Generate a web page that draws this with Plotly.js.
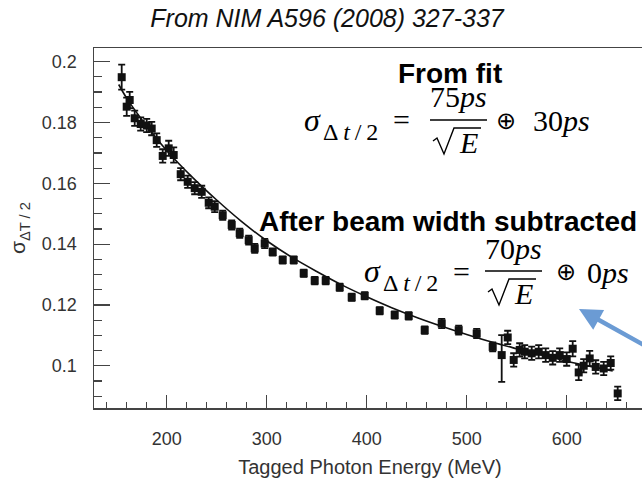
<!DOCTYPE html>
<html>
<head>
<meta charset="utf-8">
<script src="https://cdn.plot.ly/plotly-3.0.1.min.js"></script>
<style>
html,body{margin:0;padding:0;overflow:hidden;background:#fff;}
#chart{width:660px;height:487px;}
</style>
</head>
<body>
<div id="chart"></div>
<script>
// ---- data ----
const energy = [155,160,163,168,174,180,185,190,196,202,207,214,221,228,235,242,248,256,265,273,282,288,298,306,316,327,337,348,359,373,385,398,413,428,442,458,475,492,510,526,535,541,547,553,558,565,572,579,586,593,600,606,612,617,623,629,637,644,651];
const sigma = [0.1949,0.1852,0.1874,0.1814,0.1795,0.1790,0.1780,0.1742,0.1690,0.1715,0.1693,0.1630,0.1605,0.1584,0.1572,0.1536,0.1523,0.1495,0.1463,0.1436,0.1413,0.1386,0.1402,0.1374,0.1348,0.1348,0.1304,0.1280,0.1280,0.1258,0.1225,0.1230,0.1181,0.1167,0.1164,0.1117,0.1139,0.1117,0.1106,0.1062,0.1035,0.1093,0.1019,0.1052,0.1046,0.1041,0.1046,0.1035,0.1026,0.1035,0.1022,0.1056,0.0978,0.1000,0.1024,0.0996,0.0991,0.1009,0.0909];
const errPlus = [0.0041,0.0030,0.0027,0.0025,0.0022,0.0022,0.0022,0.0022,0.0022,0.0025,0.0025,0.0020,0.0020,0.0020,0.0020,0.0018,0.0018,0.0015,0.0015,0.0015,0.0015,0.0015,0.0015,0.0012,0.0012,0.0012,0.0012,0.0012,0.0012,0.0012,0.0012,0.0012,0.0012,0.0012,0.0012,0.0012,0.0015,0.0015,0.0015,0.0015,0.0066,0.0022,0.0022,0.0022,0.0022,0.0022,0.0022,0.0022,0.0022,0.0022,0.0022,0.0025,0.0025,0.0022,0.0025,0.0022,0.0022,0.0022,0.0022];
const errMinus = [0.0041,0.0030,0.0027,0.0025,0.0022,0.0022,0.0022,0.0022,0.0022,0.0025,0.0025,0.0020,0.0020,0.0020,0.0020,0.0018,0.0018,0.0015,0.0015,0.0015,0.0015,0.0015,0.0015,0.0012,0.0012,0.0012,0.0012,0.0012,0.0012,0.0012,0.0012,0.0012,0.0012,0.0012,0.0012,0.0012,0.0015,0.0015,0.0015,0.0015,0.0088,0.0022,0.0022,0.0022,0.0022,0.0022,0.0022,0.0022,0.0022,0.0022,0.0022,0.0025,0.0025,0.0022,0.0025,0.0022,0.0022,0.0022,0.0022];
const fitEnergy = [152,160,175,200,225,250,275,300,325,350,375,400,425,450,475,500,525,550,575,600,625,646];
const fitSigma = [0.1925,0.1880,0.1810,0.1708,0.1622,0.1545,0.1474,0.1411,0.1357,0.1310,0.1266,0.1227,0.1191,0.1159,0.1130,0.1103,0.1078,0.1056,0.1035,0.1015,0.0997,0.0983];
const xTickVals = [200,300,400,500,600];
const yTickVals = [0.1,0.12,0.14,0.16,0.18,0.2];
const yTickText = ['0.1','0.12','0.14','0.16','0.18','0.2'];

// ---- layout helpers (pixel -> paper) ----
const L=94, R=646, T=48, B=408;
const px = v => (v-L)/(R-L);
const py = v => (B-v)/(B-T);
const serif = 'Liberation Serif, Times New Roman, serif';
const sans = 'Liberation Sans, Arial, sans-serif';
const TS = '\u2009';

function ann(text, x, y, size, opts){
  return Object.assign({xref:'paper', yref:'paper', x:px(x), y:py(y), text:text, showarrow:false,
    xanchor:'center', yanchor:'middle', borderpad:0, font:{family:serif, size:size, color:'#000'}}, opts||{});
}
function hline(x0,x1,y,w){
  return {type:'line', xref:'paper', yref:'paper', x0:px(x0), x1:px(x1), y0:py(y), y1:py(y), line:{color:'#000', width:w||1.5}};
}
function radical(dx,dy){
  const pts=[[433,141],[437,138],[444,154],[454,128],[481,128]];
  const d = pts.map((p,i)=>(i?'L':'M')+px(p[0]+dx)+','+py(p[1]+dy)).join(' ');
  return {type:'path', xref:'paper', yref:'paper', path:d, line:{color:'#000', width:1.4}};
}
// one formula block; dx/dy shift the left part, fx shifts the fraction
function formula(dx,dy,fx,num,tail,tailX){
  return [
    ann('<i>σ</i>', 312+dx, 120+dy, 32),
    ann('Δ'+TS+'<i>t</i>'+TS+'/'+TS+'2', 350+dx, 132+dy, 24),
    ann('=', 401+dx, 120+dy, 30),
    ann(num, 458+fx, 97+dy, 30),
    ann('<i>E</i>', 468+fx, 142+dy, 30),
    ann('⊕', 506+dx, 121+dy, 24, {font:{family:'DejaVu Sans, sans-serif', size:24, color:'#000'}}),
    ann(tail, tailX+dx, 121+dy, 30)
  ];
}

const traces = [
  {x: fitEnergy, y: fitSigma, type:'scatter', mode:'lines', line:{color:'#111', width:1.6, shape:'spline'}, hoverinfo:'skip'},
  {x: energy, y: sigma, type:'scatter', mode:'markers',
   marker:{symbol:'square', size:8, color:'#111'},
   error_y:{type:'data', symmetric:false, array: errPlus, arrayminus: errMinus, color:'#111', thickness:1.8, width:3.5}}
];

const layout = {
  width:660, height:487,
  margin:{l:L, r:660-R, t:T, b:487-B},
  paper_bgcolor:'#fff', plot_bgcolor:'#fff',
  showlegend:false,
  font:{family:sans, color:'#333'},
  title:{text:'<i>From NIM A596 (2008) 327-337</i>', xref:'container', yref:'container',
         x:327/660, y:1-18/487, xanchor:'center', yanchor:'middle',
         font:{family:sans, size:25, color:'#111'}},
  xaxis:{range:[127.3,679.3], tickvals:xTickVals, ticktext:xTickVals.map(String),
         ticks:'inside', ticklen:13, tickwidth:1.2, tickcolor:'#444',
         minor:{dtick:20, tick0:0, ticks:'inside', ticklen:6, tickwidth:1.2, tickcolor:'#444'},
         showline:true, mirror:true, linecolor:'#444', linewidth:1.5,
         showgrid:false, zeroline:false, ticklabelstandoff:14,
         tickfont:{size:18, color:'#333'},
         title:{text:'Tagged Photon Energy (MeV)', font:{size:20, color:'#333'}, standoff:12}},
  yaxis:{range:[0.0861,0.2045], tickvals:yTickVals, ticktext:yTickText,
         ticks:'inside', ticklen:16, tickwidth:1.2, tickcolor:'#444',
         minor:{dtick:0.005, tick0:0, ticks:'inside', ticklen:8, tickwidth:1.2, tickcolor:'#444'},
         showline:true, mirror:true, linecolor:'#444', linewidth:1.5,
         showgrid:false, zeroline:false, ticklabelstandoff:12,
         tickfont:{size:18, color:'#333'},
         title:{text:'σ<sub>ΔT / 2</sub>', font:{size:21, color:'#333'}, standoff:10}},
  annotations:[
    ann('<b>From fit</b>', 450, 74, 28, {font:{family:sans, size:28, color:'#000'}}),
    ...formula(0,0,0,'75<i>ps</i>','30<i>ps</i>',561),
    ann('<b>After beam width subtracted</b>', 448, 222, 28, {font:{family:sans, size:28, color:'#000'}}),
    ...formula(60,151,55,'70<i>ps</i>','0<i>ps</i>',548),
    {xref:'paper', yref:'paper', x:px(579), y:py(309), ax:72, ay:40, axref:'pixel', ayref:'pixel',
     text:'', showarrow:true, arrowhead:2, arrowsize:1, arrowwidth:4.5, arrowcolor:'#6b9bd4'}
  ],
  shapes:[
    hline(430,487,120,1.5), radical(0,0),
    hline(485,542,271,1.5), radical(55,151)
  ]
};

Plotly.newPlot('chart', traces, layout, {displayModeBar:false, staticPlot:true});
</script>
</body>
</html>
